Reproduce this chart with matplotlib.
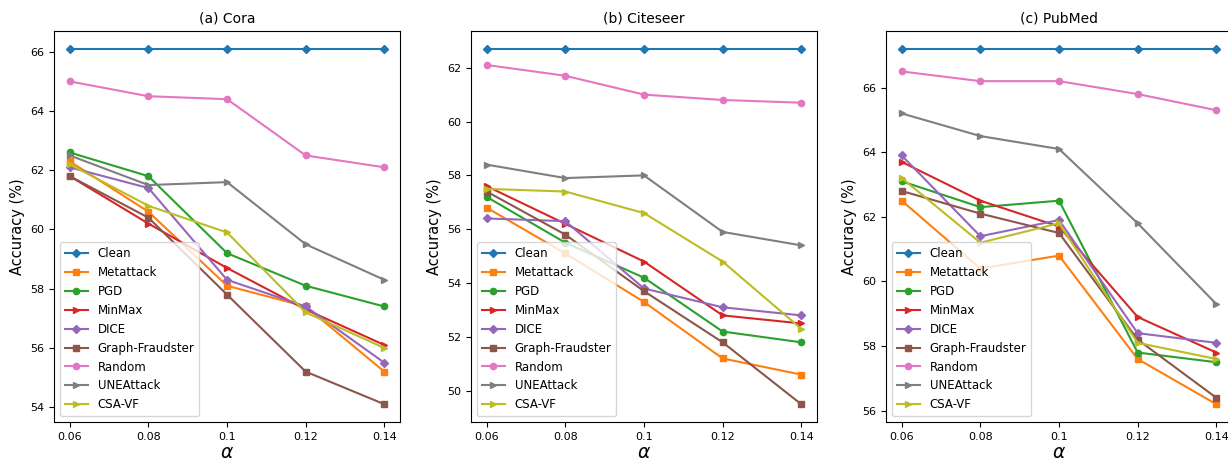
import numpy as np
import matplotlib.pyplot as plt

alphas = ['0.06', '0.08', '0.1', '0.12', '0.14']
methods = ['Clean', 'Metattack', 'PGD', 'MinMax', 'DICE', 'Graph-Fraudster', 'Random', 'UNEAttack', 'CSA-VF']
markers = ['D', 's', 'o', '>', 'D', 's', 'o', '>', '>']

cora = {
    'Clean': [66.1, 66.1, 66.1, 66.1, 66.1],
    'Metattack': [62.3, 60.6, 58.1, 57.4, 55.2],
    'PGD': [62.6, 61.8, 59.2, 58.1, 57.4],
    'MinMax': [61.8, 60.2, 58.7, 57.3, 56.1],
    'DICE': [62.1, 61.4, 58.3, 57.4, 55.5],
    'Graph-Fraudster': [61.8, 60.4, 57.8, 55.2, 54.1],
    'Random': [65.0, 64.5, 64.4, 62.5, 62.1],
    'UNEAttack': [62.5, 61.5, 61.6, 59.5, 58.3],
    'CSA-VF': [62.2, 60.8, 59.9, 57.2, 56.0],
}

citeseer = {
    'Clean': [62.7, 62.7, 62.7, 62.7, 62.7],
    'Metattack': [56.8, 55.1, 53.3, 51.2, 50.6],
    'PGD': [57.2, 55.5, 54.2, 52.2, 51.8],
    'MinMax': [57.6, 56.2, 54.8, 52.8, 52.5],
    'DICE': [56.4, 56.3, 53.8, 53.1, 52.8],
    'Graph-Fraudster': [57.4, 55.8, 53.7, 51.8, 49.5],
    'Random': [62.1, 61.7, 61.0, 60.8, 60.7],
    'UNEAttack': [58.4, 57.9, 58.0, 55.9, 55.4],
    'CSA-VF': [57.5, 57.4, 56.6, 54.8, 52.3],
}

pubmed = {
    'Clean': [67.2, 67.2, 67.2, 67.2, 67.2],
    'Metattack': [62.5, 60.4, 60.8, 57.6, 56.2],
    'PGD': [63.1, 62.3, 62.5, 57.8, 57.5],
    'MinMax': [63.7, 62.5, 61.7, 58.9, 57.8],
    'DICE': [63.9, 61.4, 61.9, 58.4, 58.1],
    'Graph-Fraudster': [62.8, 62.1, 61.5, 58.2, 56.4],
    'Random': [66.5, 66.2, 66.2, 65.8, 65.3],
    'UNEAttack': [65.2, 64.5, 64.1, 61.8, 59.3],
    'CSA-VF': [63.2, 61.2, 61.8, 58.1, 57.6],
}

datasets = [('(a) Cora', cora), ('(b) Citeseer', citeseer), ('(c) PubMed', pubmed)]
lefts = [0.044, 0.3835, 0.7215]

fig = plt.figure(figsize=(12.28, 4.61), dpi=100)
x = np.arange(len(alphas))

for left, (title, data) in zip(lefts, datasets):
    ax = fig.add_axes([left, 0.0846, 0.2818, 0.848])
    for m, mk in zip(methods, markers):
        ax.plot(x, data[m], marker=mk, markersize=4.5, linewidth=1.5, label=m)
    ax.set_xticks(x)
    ax.set_xticklabels(alphas)
    ax.tick_params(labelsize=8)
    ax.set_title(title, fontsize=10)
    ax.set_xlabel(r'$\alpha$', fontsize=13.5, labelpad=1)
    ax.set_ylabel('Accuracy (%)', fontsize=10.5)
    ax.legend(loc='lower left', fontsize=8.5)

fig.savefig('out.png', dpi=100)
